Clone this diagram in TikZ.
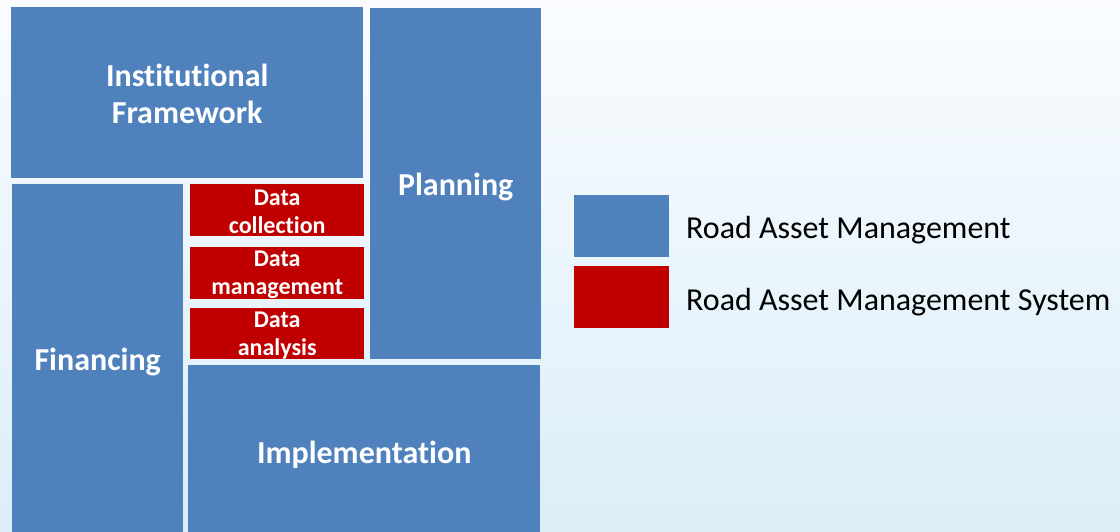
\documentclass[tikz,border=0pt]{standalone}
\usepackage{fontspec}
\setmainfont[Ligatures={NoCommon}]{Carlito}
\definecolor{rablue}{RGB}{79,129,189}
\definecolor{rared}{RGB}{192,0,0}
\definecolor{bgtop}{RGB}{250,252,255}
\definecolor{bgbot}{RGB}{219,238,248}
\tikzset{
  blk/.style={fill=rablue, draw=none, inner sep=0pt, anchor=north west},
  sysblk/.style={fill=rared, draw=none, inner sep=0pt, anchor=north west},
  blktxt/.style={inner sep=0pt, text=white, align=center, font=\bfseries\fontsize{32}{37}\selectfont},
  systxt/.style={inner sep=0pt, text=white, align=center, font=\bfseries\fontsize{24}{28}\selectfont},
  legbox/.style={draw=none, inner sep=0pt, anchor=north west, minimum width=95pt, minimum height=62pt},
  legtext/.style={anchor=base west, inner sep=0pt, font=\fontsize{32}{36}\selectfont, text=black}
}
\begin{document}
\begin{tikzpicture}[x=1pt,y=-1pt]
\useasboundingbox (0,0) rectangle (1120,532);
\shade[top color=bgtop, bottom color=bgbot] (0,0) rectangle (1120,532);
\node[blk, minimum width=352pt, minimum height=171pt] (inst) at (11,7) {};
\node[blk, minimum width=171pt, minimum height=351pt] (plan) at (370,8) {};
\node[blk, minimum width=171pt, minimum height=348pt] (fin) at (12,184) {};
\node[blk, minimum width=352pt, minimum height=167pt] (impl) at (188,365) {};
\node[sysblk, minimum width=174pt, minimum height=52pt] (dc) at (190,184) {};
\node[sysblk, minimum width=174pt, minimum height=52pt] (dm) at (190,247) {};
\node[sysblk, minimum width=174pt, minimum height=51pt] (da) at (190,308) {};
\node[blktxt] (instT) at ([yshift=-1pt]inst.center) {Institutional\\Framework};
\node[blktxt] (planT) at ([yshift=-3pt]plan.center) {Planning};
\node[blktxt] (finT) at ([yshift=-4pt]fin.center) {Financing};
\node[blktxt] (implT) at ([yshift=-6pt]impl.center) {Implementation};
\node[systxt] (dcT) at ([yshift=-2pt]dc.center) {Data\\collection};
\node[systxt] (dmT) at ([yshift=-2pt]dm.center) {Data\\management};
\node[systxt] (daT) at ([yshift=-2pt]da.center) {Data\\analysis};
\node[legbox, fill=rablue] (lb) at (574,195) {};
\node[legbox, fill=rared] (lr) at (574,266) {};
\node[legtext] (lbt) at (686,238) {Road Asset Management};
\node[legtext] (lrt) at (686,310) {Road Asset Management System};
\end{tikzpicture}
\end{document}
